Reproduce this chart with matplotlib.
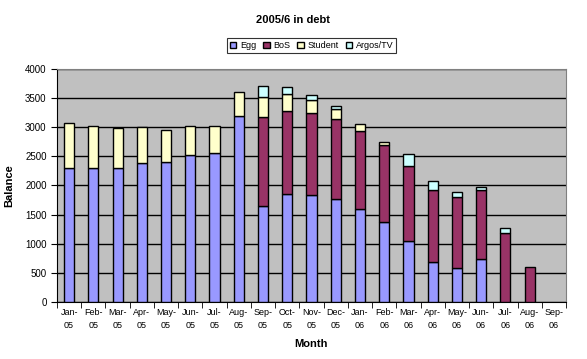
import numpy as np
import matplotlib.pyplot as plt

months = ['Jan-\n05', 'Feb-\n05', 'Mar-\n05', 'Apr-\n05', 'May-\n05', 'Jun-\n05', 'Jul-\n05',
          'Aug-\n05', 'Sep-\n05', 'Oct-\n05', 'Nov-\n05', 'Dec-\n05', 'Jan-\n06', 'Feb-\n06',
          'Mar-\n06', 'Apr-\n06', 'May-\n06', 'Jun-\n06', 'Jul-\n06', 'Aug-\n06', 'Sep-\n06']
egg = [2300, 2300, 2300, 2380, 2400, 2520, 2560, 3190, 1650, 1860, 1840, 1770, 1600, 1380,
       1050, 680, 580, 740, 0, 0, 0]
bos = [0, 0, 0, 0, 0, 0, 0, 0, 1530, 1420, 1410, 1370, 1340, 1320, 1290, 1250, 1220, 1190,
       1180, 600, 0]
student = [780, 730, 690, 620, 560, 510, 460, 410, 340, 290, 220, 180, 110, 40, 0, 0, 0, 0,
           0, 0, 0]
argos = [0, 0, 0, 0, 0, 0, 0, 0, 195, 125, 90, 40, 0, 0, 200, 145, 90, 45, 90, 0, 0]

series = [('Egg', egg, '#9999FF'), ('BoS', bos, '#993366'),
          ('Student', student, '#FFFFCC'), ('Argos/TV', argos, '#CCFFFF')]

plt.rcParams['font.family'] = ['Liberation Sans', 'DejaVu Sans']

fig = plt.figure(figsize=(5.87, 3.59), dpi=100)
ax = fig.add_axes([0.0971, 0.1588, 0.8671, 0.649])
ax.set_facecolor('#C0C0C0')

x = np.arange(len(months))
bottom = np.zeros(len(months))
for name, vals, col in series:
    vals = np.array(vals, dtype=float)
    show = vals > 0  # skip empty segments so no stray edge lines appear
    ax.bar(x[show], vals[show], 0.42, bottom=bottom[show], color=col, edgecolor='black',
           linewidth=1.0, label=name, zorder=3)
    bottom += vals

ax.set_xlim(-0.5, len(months) - 0.5)
ax.set_ylim(0, 4000)
ax.set_yticks(np.arange(0, 4001, 500))
ax.yaxis.grid(True, color='black', linewidth=1.0, zorder=1)
ax.set_axisbelow(True)

ax.set_xticks(x)
ax.set_xticklabels(months, fontsize=6.5, linespacing=1.7)
ax.tick_params(axis='x', length=0, pad=4)
ax.set_xticks(np.arange(-0.5, len(months)), minor=True)
ax.tick_params(axis='x', which='minor', length=4, direction='out')
ax.tick_params(axis='y', labelsize=7, length=4, direction='out')

for s in ['top', 'right']:
    ax.spines[s].set_color('#808080')
for s in ['left', 'bottom']:
    ax.spines[s].set_color('black')

ax.set_xlabel('Month', fontsize=8, fontweight='bold', labelpad=6)
ax.set_ylabel('Balance', fontsize=8, fontweight='bold', labelpad=8)

fig.text(0.5, 0.945, '2005/6 in debt', ha='center', va='center', fontsize=8, fontweight='bold')

leg = fig.legend(loc='center', bbox_to_anchor=(0.531, 0.873), ncol=4, fontsize=6.5,
                 frameon=True, fancybox=False, edgecolor='black', handlelength=0.7,
                 handleheight=0.7, handletextpad=0.4, columnspacing=0.8, borderpad=0.3)
leg.get_frame().set_linewidth(0.8)

fig.savefig('out.png', dpi=100)
